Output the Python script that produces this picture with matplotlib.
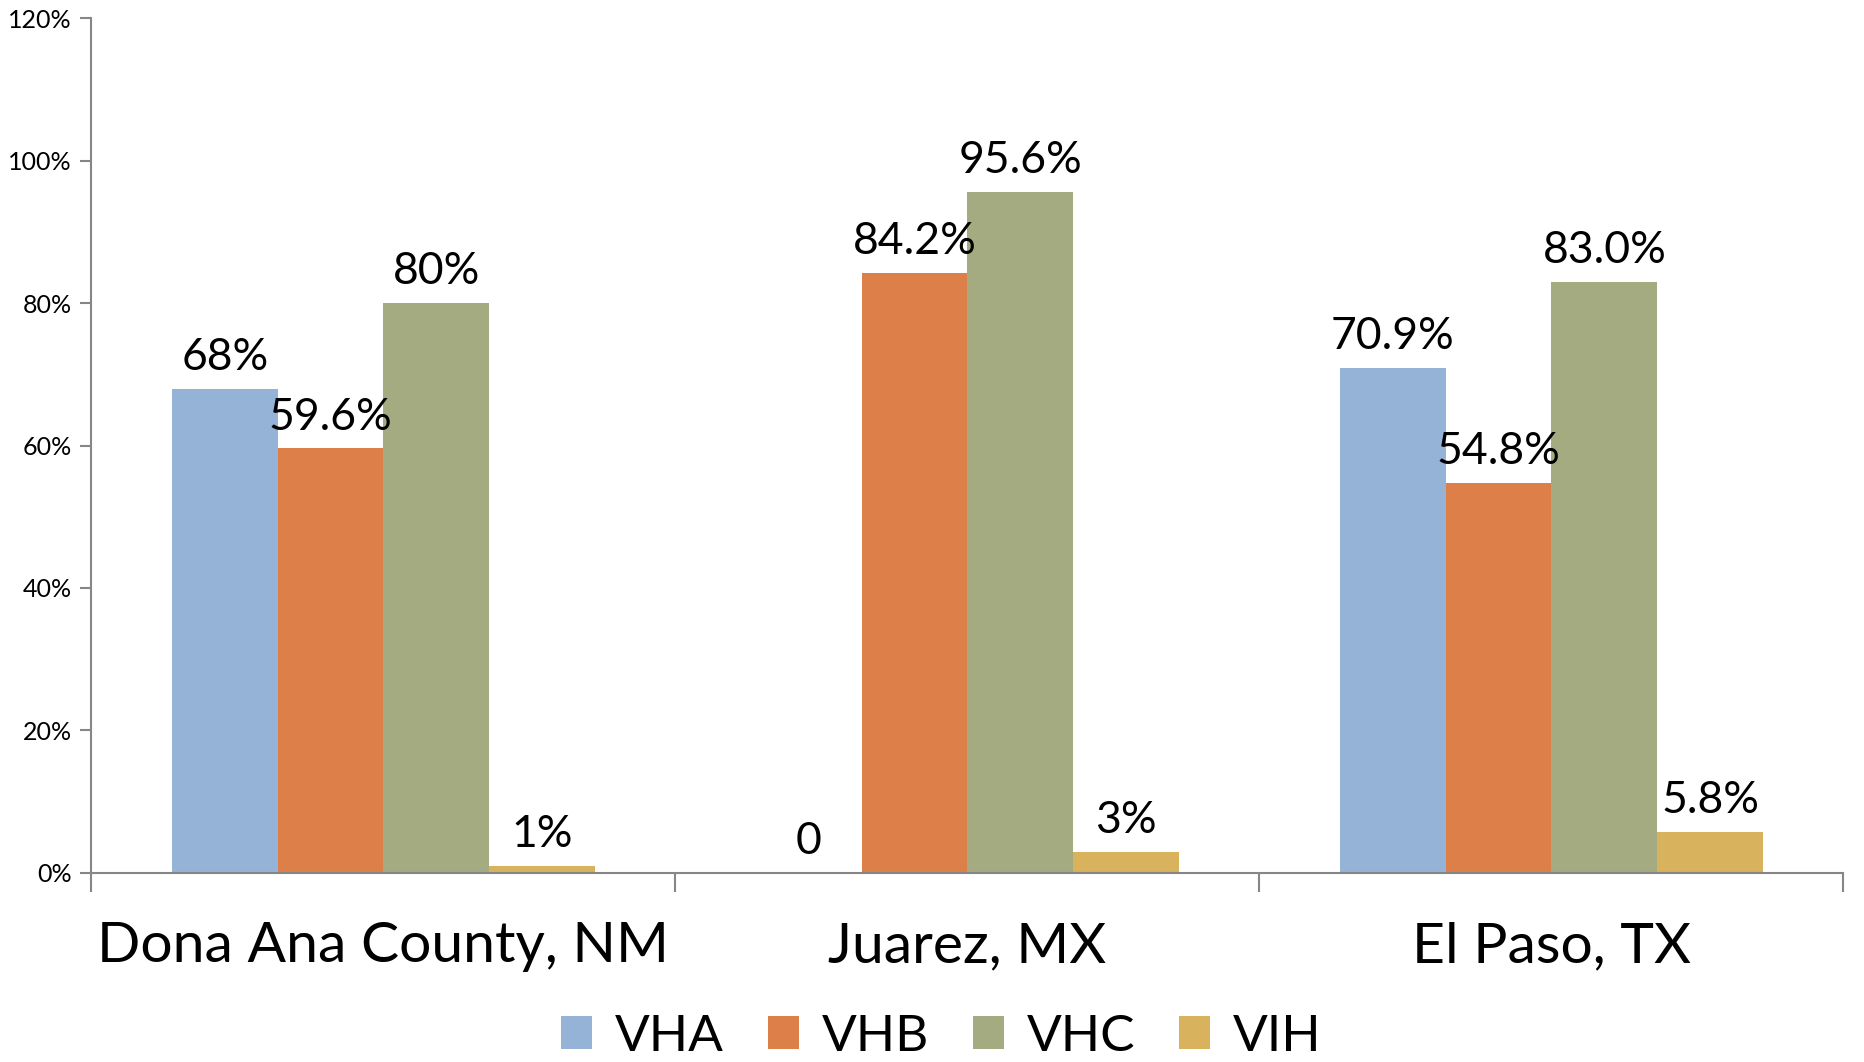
import numpy as np
import matplotlib.pyplot as plt
from matplotlib.ticker import FuncFormatter

plt.rcParams['font.family'] = ['Lato', 'DejaVu Sans']

places = ['Dona Ana County, NM', 'Juarez, MX', 'El Paso, TX']
series = ['VHA', 'VHB', 'VHC', 'VIH']
vha = [68.0, 0.0, 70.9]
vhb = [59.6, 84.2, 54.8]
vhc = [80.0, 95.6, 83.0]
vih = [1.0, 3.0, 5.8]
labels_vha = ['68%', '0', '70.9%']
labels_vhb = ['59.6%', '84.2%', '54.8%']
labels_vhc = ['80%', '95.6%', '83.0%']
labels_vih = ['1%', '3%', '5.8%']

colors = ['#95b3d7', '#dd7f48', '#a4ab80', '#d8b25c']
values = [vha, vhb, vhc, vih]
texts = [labels_vha, labels_vhb, labels_vhc, labels_vih]

fig = plt.figure(figsize=(18.64, 10.62), dpi=100)
ax = fig.add_axes([0.049, 0.178, 0.94, 0.805])

x = np.arange(len(places))
w = 0.181
for i, (vals, lab, c, name) in enumerate(zip(values, texts, colors, series)):
    pos = x + (i - 1.5) * w
    ax.bar(pos, vals, w, color=c, label=name, zorder=2)
    for p, v, t in zip(pos, vals, lab):
        ax.text(p, v + 1.5, t, ha='center', va='bottom', fontsize=32)

ax.set_xlim(-0.5, 2.5)
ax.set_ylim(0, 120)
ax.set_yticks(np.arange(0, 121, 20))
ax.yaxis.set_major_formatter(FuncFormatter(lambda v, _: f'{v:.0f}%'))
ax.tick_params(axis='y', labelsize=18, length=8, color='#868686', width=1.5, pad=6)

ax.set_xticks([-0.5, 0.5, 1.5, 2.5])
ax.set_xticklabels([])
ax.tick_params(axis='x', length=14, color='#868686', width=1.5, direction='out')
for xi, name in zip(x, places):
    ax.text(xi, -6.8, name, ha='center', va='top', fontsize=41)

for s in ['top', 'right']:
    ax.spines[s].set_visible(False)
for s in ['left', 'bottom']:
    ax.spines[s].set_color('#868686')
    ax.spines[s].set_linewidth(1.5)

handles, names = ax.get_legend_handles_labels()
fig.legend(handles, names, loc='center', bbox_to_anchor=(0.505, 0.024),
           ncol=4, frameon=False, fontsize=37, handlelength=0.6,
           handleheight=0.6, handletextpad=0.45, columnspacing=0.85,
           borderpad=0.0)

fig.savefig('out.png', dpi=100)
